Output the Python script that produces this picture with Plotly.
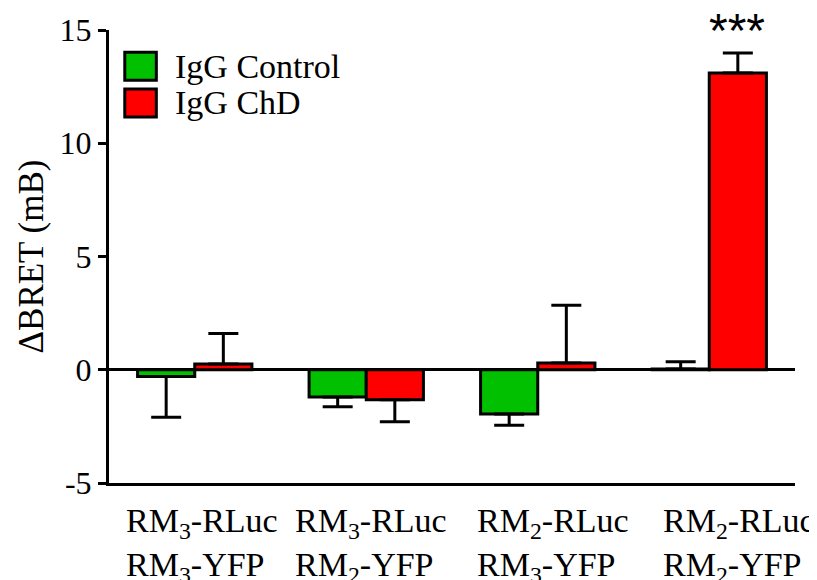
import plotly.graph_objects as go

categories = ["RM<sub>3</sub>-RLuc<br>RM<sub>3</sub>-YFP",
              "RM<sub>3</sub>-RLuc<br>RM<sub>2</sub>-YFP",
              "RM<sub>2</sub>-RLuc<br>RM<sub>3</sub>-YFP",
              "RM<sub>2</sub>-RLuc<br>RM<sub>2</sub>-YFP"]
control_vals = [-0.3, -1.2, -1.95, 0.03]
control_err = [1.8, 0.43, 0.5, 0.32]
chd_vals = [0.25, -1.33, 0.3, 13.1]
chd_err = [1.35, 0.97, 2.55, 0.88]
series_names = ["IgG Control", "IgG ChD"]
y_ticks = [-5, 0, 5, 10, 15]
y_tick_text = ["-5", "0", "5", "10", "15"]
significance = ["", "", "", "***"]

FONT = "Liberation Serif"
GREEN = "#00C000"
RED = "#FF0000"

x_idx = list(range(len(categories)))

def err_dict(vals, errs):
    up = [e if v >= 0 else 0 for v, e in zip(vals, errs)]
    down = [e if v < 0 else 0 for v, e in zip(vals, errs)]
    return dict(type="data", symmetric=False, array=up, arrayminus=down,
                color="black", thickness=3, width=15)

fig = go.Figure()
fig.add_trace(go.Bar(x=x_idx, y=control_vals, name=series_names[0],
                     marker=dict(color=GREEN, line=dict(color="black", width=3)),
                     error_y=err_dict(control_vals, control_err)))
fig.add_trace(go.Bar(x=x_idx, y=chd_vals, name=series_names[1],
                     marker=dict(color=RED, line=dict(color="black", width=3)),
                     error_y=err_dict(chd_vals, chd_err)))

annotations = []
label_shifts = [7, 5, 15, 30]
for i, lab in enumerate(categories):
    annotations.append(dict(x=i, y=0, xref="x", yref="paper", text=lab,
                            showarrow=False, yanchor="top", xanchor="center",
                            yshift=-17, xshift=label_shifts[i], align="left",
                            font=dict(family=FONT, size=34, color="black")))
for i, s in enumerate(significance):
    if s:
        top = chd_vals[i] + chd_err[i]
        annotations.append(dict(x=i, y=top, xref="x", yref="y", text=s,
                                showarrow=False, yanchor="bottom", xshift=28, yshift=-6,
                                font=dict(family="Liberation Sans", size=48, color="black")))

# manual legend
shapes = []
leg_y = [0.920, 0.839]
for j, (name, col) in enumerate(zip(series_names, [GREEN, RED])):
    shapes.append(dict(type="rect", xref="paper", yref="paper",
                       x0=0.023, x1=0.069, y0=leg_y[j] - 0.031, y1=leg_y[j] + 0.031,
                       fillcolor=col, line=dict(color="black", width=3)))
    annotations.append(dict(x=0.094, y=leg_y[j], xref="paper", yref="paper", text=name,
                            showarrow=False, xanchor="left", yanchor="middle",
                            font=dict(family=FONT, size=34, color="black")))

fig.update_layout(
    width=817, height=580,
    margin=dict(l=101, r=30, t=22, b=105),
    plot_bgcolor="white", paper_bgcolor="white",
    barmode="group", bargap=1/3, bargroupgap=0,
    showlegend=False,
    font=dict(family=FONT, color="black"),
    annotations=annotations, shapes=shapes,
)
fig.update_xaxes(range=[-0.5, 3.5], showticklabels=False, ticks="",
                 showline=True, linecolor="black", linewidth=3,
                 showgrid=False, zeroline=False, automargin=False)
fig.update_yaxes(range=[-5, 15], tickvals=y_ticks, ticktext=y_tick_text,
                 ticks="outside", ticklen=8,
                 tickwidth=3, tickcolor="black", automargin=False,
                 showline=True, linecolor="black", linewidth=3,
                 showgrid=False, zeroline=True, zerolinecolor="black", zerolinewidth=2.5,
                 tickfont=dict(family=FONT, size=32, color="black"),
                 title=dict(text="ΔBRET (mB)", font=dict(family=FONT, size=35, color="black"),
                            standoff=6))

fig.write_html("out.html")
